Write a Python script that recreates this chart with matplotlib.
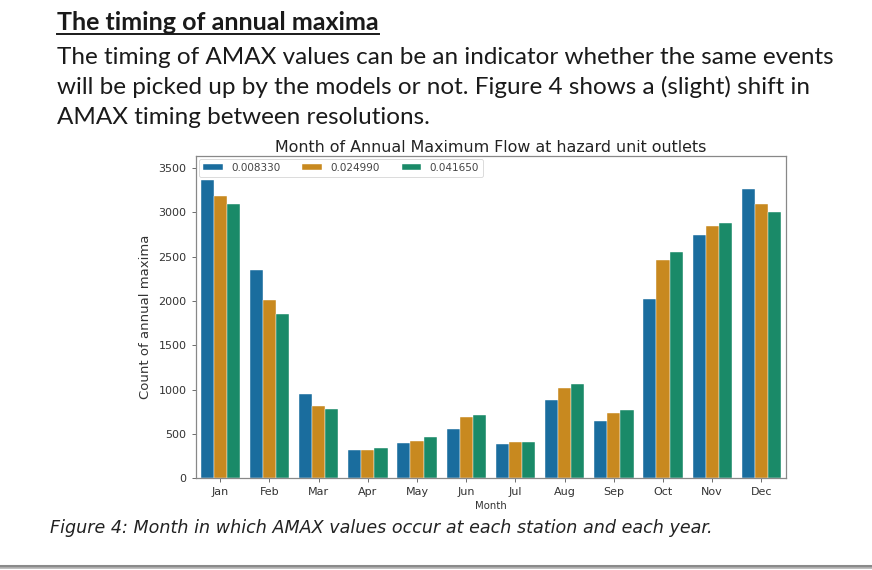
import matplotlib
matplotlib.use("Agg")
import matplotlib.pyplot as plt
from matplotlib.lines import Line2D
import numpy as np

months = ["Jan", "Feb", "Mar", "Apr", "May", "Jun", "Jul", "Aug", "Sep", "Oct", "Nov", "Dec"]
resolutions = ["0.008330", "0.024990", "0.041650"]
counts_008330 = [3371, 2355, 952, 324, 403, 557, 391, 884, 651, 2028, 2743, 3270]
counts_024990 = [3186, 2009, 820, 324, 421, 688, 406, 1023, 737, 2460, 2844, 3096]
counts_041650 = [3096, 1859, 786, 339, 466, 719, 406, 1068, 771, 2554, 2886, 3010]
series = [counts_008330, counts_024990, counts_041650]
colors = ["#1a6d9e", "#c8891f", "#1a8a68"]

heading = "The timing of annual maxima"
body = ["The timing of AMAX values can be an indicator whether the same events",
        "will be picked up by the models or not. Figure 4 shows a (slight) shift in",
        "AMAX timing between resolutions."]
chart_title = "Month of Annual Maximum Flow at hazard unit outlets"
caption = "Figure 4: Month in which AMAX values occur at each station and each year."

W, H = 872, 570
fig = plt.figure(figsize=(W / 100, H / 100), dpi=100)
fig.patch.set_facecolor("white")

def fx(px):
    return px / W

def fy(py):
    return 1 - py / H

# Document text
htxt = fig.text(fx(57), fy(30), heading, fontsize=18, fontweight="bold",
                family="Lato", color="#1a1a1a", va="baseline", ha="left")
for i, line in enumerate(body):
    fig.text(fx(57), fy(64 + i * 30), line, fontsize=17.5, family="Lato",
             color="#1a1a1a", va="baseline", ha="left")

fig.canvas.draw()
r = fig.canvas.get_renderer()
bb = htxt.get_window_extent(r)
fig.add_artist(Line2D([bb.x0 / W, bb.x1 / W], [fy(34), fy(34)],
                      transform=fig.transFigure, color="#1a1a1a", lw=1.4))

# Chart
ax = fig.add_axes([0.2244, 0.1609, 0.677, 0.5659])
n = len(resolutions)
total_w = 0.8
bw = total_w / n
x = np.arange(len(months))
for i, (vals, c, lab) in enumerate(zip(series, colors, resolutions)):
    ax.bar(x - total_w / 2 + bw * (i + 0.5), vals, width=bw, color=c, label=lab,
           edgecolor="white", linewidth=0.3)

ax.set_xlim(-0.5, len(months) - 0.5)
ax.set_ylim(0, 3640)
ax.set_yticks(np.arange(0, 3501, 500))
ax.set_xticks(x)
ax.set_xticklabels(months)
ax.tick_params(labelsize=8, length=3, width=0.6, colors="#555555", labelcolor="#333333")
for s in ax.spines.values():
    s.set_color("#888888")
    s.set_linewidth(0.9)
ax.set_xlabel("Month", fontsize=7.3, color="#333333", labelpad=3)
ax.set_ylabel("Count of annual maxima", fontsize=9.5, color="#333333", labelpad=5)
ax.set_title(chart_title, fontsize=11.4, color="#222222", pad=3)

leg = ax.legend(loc="upper left", ncol=3, fontsize=7.5, frameon=True,
                handlelength=1.9, handleheight=0.5, columnspacing=2.1,
                borderaxespad=0.3, borderpad=0.4, handletextpad=0.8)
leg.get_frame().set_edgecolor("#cccccc")
leg.get_frame().set_linewidth(0.6)
for t in leg.get_texts():
    t.set_color("#444444")

fig.text(fx(50), fy(533), caption, fontsize=12.6, style="italic", family="DejaVu Sans",
         color="#222222", va="baseline", ha="left")

# Bottom rule
fig.add_artist(Line2D([0, 1], [fy(565.5), fy(565.5)], transform=fig.transFigure,
                      color="#8a8a8a", lw=2.2))
fig.add_artist(Line2D([0, 1], [fy(567.5), fy(567.5)], transform=fig.transFigure,
                      color="#b5b5b5", lw=1.2))

fig.savefig("out.png", dpi=100, facecolor="white")
